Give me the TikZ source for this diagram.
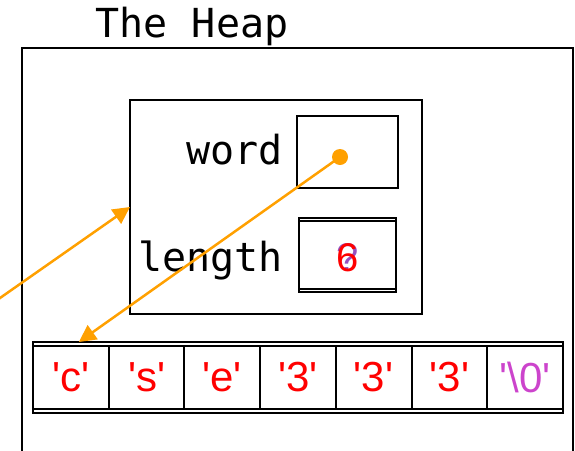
\documentclass[tikz,border=0pt]{standalone}
\usepackage{fontspec}
\setmainfont{Liberation Sans}
\newfontfamily\codefont{DejaVu Sans Mono}
\usetikzlibrary{arrows.meta, positioning, fit}

\definecolor{ptrorange}{RGB}{255,160,0}
\definecolor{charred}{RGB}{255,0,0}
\definecolor{nulpink}{RGB}{204,68,204}
\definecolor{oldpurple}{RGB}{150,80,190}

\newcommand{\ch}[1]{\textquotesingle#1\textquotesingle}

\begin{document}
\begin{tikzpicture}[
  x=1pt, y=-1pt,
  line width=2pt,
  every node/.style={inner sep=0pt, outer sep=0pt},
  lbl/.style={font=\codefont\fontsize{40}{40}\selectfont},
  box/.style={draw, line width=2pt},
  cell/.style={box, minimum width=75.7pt, minimum height=63pt,
    text=charred, font=\fontsize{42}{42}\selectfont},
  ptr/.style={-{Triangle[length=17pt, width=17pt]}, line width=2.5pt, draw=ptrorange, fill=ptrorange},
]
\useasboundingbox (0,0) rectangle (575,450);
\clip (0,0) rectangle (575,450);

% the heap
\draw (22,470) |- (573,48) -- (573,470);
\node[lbl, anchor=base] (title) at (192,37) {The Heap};

% the struct
\node[box, minimum width=292pt, minimum height=214pt] (obj) at (276,207) {};
\node[box, minimum width=101pt, minimum height=72pt] (wordval) at (347.5,152) {};
\node[box, minimum width=97pt, minimum height=71pt] (lenval) at (347.5,253.5) {};
\draw ([yshift=-3pt]lenval.north west) rectangle ([yshift=-3pt]lenval.south east);
\node[lbl, anchor=base east] (wordlbl) at (283,164) {word};
\node[lbl, anchor=base east] (lenlbl) at (283,271) {length};
\node[anchor=base, text=oldpurple, font=\fontsize{40}{40}\selectfont] (oldlen) at (348,271) {?};
\node[anchor=base, text=charred, font=\fontsize{40}{40}\selectfont] (len) at (348,271) {6};

% the chars
\node[cell] (c0) at (70.85,377.5) {\ch{c}};
\node[cell, right=0pt of c0] (c1) {\ch{s}};
\node[cell, right=0pt of c1] (c2) {\ch{e}};
\node[cell, right=0pt of c2] (c3) {\ch{3}};
\node[cell, right=0pt of c3] (c4) {\ch{3}};
\node[cell, right=0pt of c4] (c5) {\ch{3}};
\node[cell, right=0pt of c5, text=nulpink] (c6) {\ch{\textbackslash0}};
\node[box, fit=(c0) (c6), inner ysep=4pt] (arr) {};

% pointers
\coordinate (stack) at (-20,312);
\draw[ptr] (stack) -- (obj.west);
\node[circle, fill=ptrorange, minimum size=16pt] (dot) at (340,157) {};
\draw[ptr] (dot.center) -- ([xshift=8pt, yshift=4pt]c0.north);
\end{tikzpicture}
\end{document}
